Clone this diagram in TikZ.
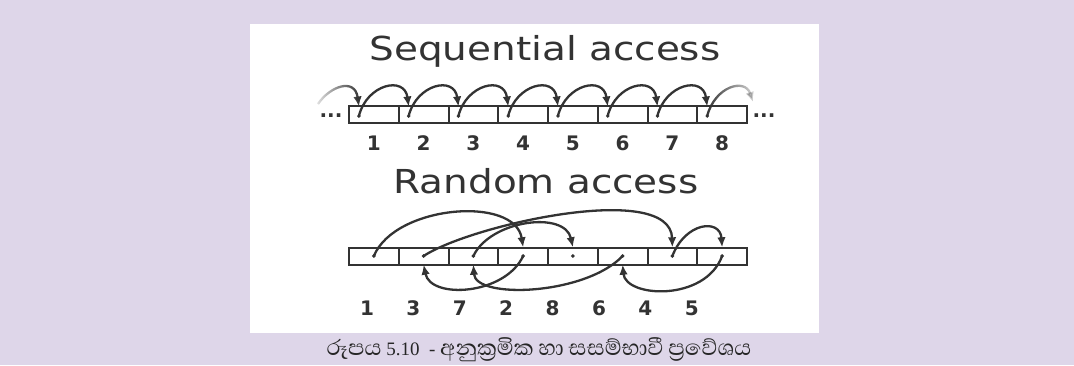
\documentclass[tikz,border=0pt]{standalone}
\usepackage{fontspec}
\setmainfont{Liberation Serif}
\newfontfamily\dv{DejaVu Sans}
\newfontfamily\sinhalafont[Script=Sinhala]{Abhaya Libre}
\usetikzlibrary{arrows.meta,fadings}
\definecolor{bg}{RGB}{222,214,233}
\definecolor{ink}{RGB}{51,51,51}
\tikzfading[name=fadein, left color=transparent!85, right color=transparent!0]
\tikzfading[name=fadeout, left color=transparent!0, right color=transparent!80]
\newcommand\sh[1]{{\sinhalafont\fontsize{28}{30}\selectfont #1}}
\begin{document}
\begin{tikzpicture}[x=1pt,y=-1pt,
  cellbox/.style={draw=ink, line width=2pt, minimum width=49.75pt, minimum height=17pt, inner sep=0pt, outer sep=0pt},
  arr/.style={draw=ink, line width=2.3pt, -{Latex[length=10pt,width=8.5pt]}},
  dotm/.style={circle, fill=ink, inner sep=0pt, minimum size=3.8pt},
  titletext/.style={font=\dv\fontsize{33}{40}\selectfont, text=ink, anchor=base, inner sep=0pt},
  num/.style={font=\dv\bfseries\fontsize{20}{24}\selectfont, text=ink, inner sep=0pt, anchor=base},
  ]
\fill[bg] (0,0) rectangle (1074,365);
\fill[white] (250,24) rectangle (819,333);
\useasboundingbox (0,0) rectangle (1074,365);

% titles
\node[titletext] (tseq) at (545,60) {\scalebox{1.18}[1]{Sequential access}};
\node[titletext] (trand) at (546,193) {\scalebox{1.18}[1]{Random access}};

% sequential row
\foreach \i in {1,...,8} {
  \node[cellbox] (sc\i) at ({373.875+(\i-1)*49.75},114.65) {};
  \coordinate (sd\i) at ({358.9+(\i-1)*49.75},116);
  \coordinate (st\i) at ({358.9+(\i-1)*49.75},106.5);
  \node[dotm] (sdm\i) at (sd\i) {};
  \node[num] (sn\i) at ({373.875+(\i-1)*49.75},150) {\i};
}
\node[num] (eL) at (331,117.5) {...};
\node[num] (eR) at (764,117.5) {...};
\coordinate (sL) at (318,104);
\coordinate (sR) at (753,102);
\draw[arr, path fading=fadein] (sL) .. controls +(12,-18) and +(-4,-29) .. (st1);
\foreach \i [evaluate=\i as \j using int(\i+1)] in {1,...,7} {
  \draw[arr] (sd\i) .. controls +(8,-32) and +(-4,-31) .. (st\j);
}
\draw[arr, path fading=fadeout] (sd8) .. controls +(8,-30) and +(-8,-24) .. (sR);

% random row
\foreach \i in {1,...,8} {
  \node[cellbox] (rc\i) at ({373.875+(\i-1)*49.75},256) {};
  \coordinate (rd\i) at ({373.875+(\i-1)*49.75},256);
  \coordinate (rt\i) at ({373.875+(\i-1)*49.75},247.3);
  \coordinate (rb\i) at ({373.875+(\i-1)*49.75},264.7);
  \node[dotm] (rdm\i) at (rd\i) {};
}
\foreach \lab [count=\k] in {1,3,7,2,8,6,4,5} {
  \node[num] (rn\k) at ({367+(\k-1)*46.4},315) {\lab};
}
\draw[arr] (rd1) .. controls +(21,-51) and +(-8,-52) .. (rt4);
\draw[arr] (rd4) .. controls +(-18,39) and +(7,35) .. (rb2);
\draw[arr] (rd2) .. controls +(47,-31) and +(-2,-67) .. (rt7);
\draw[arr] (rd7) .. controls +(13,-34) and +(-2,-29) .. (rt8);
\draw[arr] (rd8) .. controls +(-17,46) and +(3,33) .. (rb6);
\draw[arr] (rd6) .. controls +(-37,39) and +(2,35) .. (rb3);
\draw[arr] (rd3) .. controls +(17,-36) and +(-8,-37) .. (rt5);

% caption
\node[font=\fontsize{19}{22}\selectfont, text=black!85, anchor=base, inner sep=0pt] (cap) at (539,355)
  {\sh{රූපය} 5.10~ - \sh{අනුක්^^^^200dරමික} \sh{හා} \sh{සසම්භාවී} \sh{ප්^^^^200dරවේශය}};
\end{tikzpicture}
\end{document}
